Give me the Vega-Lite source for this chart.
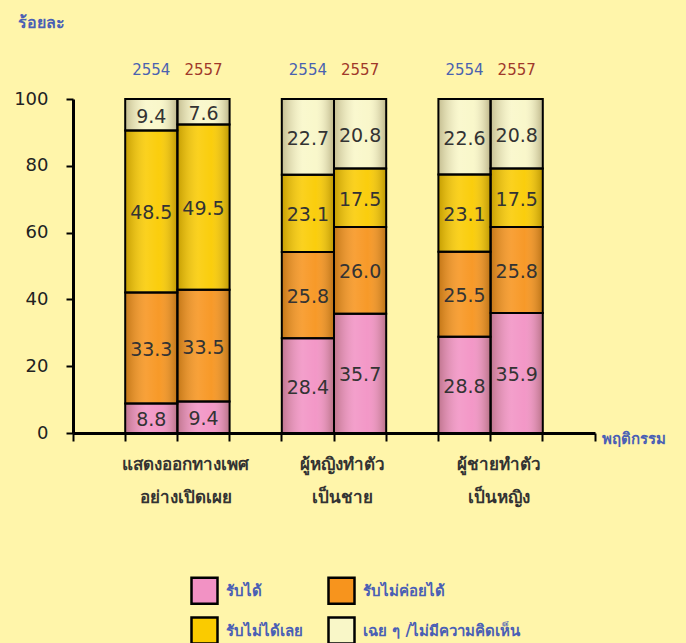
{
  "$schema": "https://vega.github.io/schema/vega-lite/v6.json",
  "autosize": "none",
  "width": 522,
  "height": 334,
  "padding": {"left": 73, "top": 99, "right": 91, "bottom": 210},
  "background": "#FFF5AA",
  "config": {
    "view": {"stroke": null},
    "font": "Tahoma, DejaVu Sans, sans-serif",
    "axisY": {
      "grid": false,
      "titleColor": "#4A5FB5",
      "titleFontSize": 16,
      "titleFontWeight": "bold",
      "titleAngle": 0,
      "titleAlign": "center",
      "titleX": -32,
      "titleY": -77,
      "titleBaseline": "middle",
      "domainColor": "#000",
      "domainWidth": 3,
      "tickColor": "#000",
      "tickWidth": 2,
      "tickSize": 7,
      "labelFontSize": 18,
      "labelColor": "#222",
      "labelPadding": 18
    }
  },
  "data": {
    "values": [
      {"bar": "A2554", "resp": "รับได้", "pct": 8.8},
      {"bar": "A2554", "resp": "รับไม่ค่อยได้", "pct": 33.3},
      {"bar": "A2554", "resp": "รับไม่ได้เลย", "pct": 48.5},
      {"bar": "A2554", "resp": "เฉย ๆ /ไม่มีความคิดเห็น", "pct": 9.4},
      {"bar": "A2557", "resp": "รับได้", "pct": 9.4},
      {"bar": "A2557", "resp": "รับไม่ค่อยได้", "pct": 33.5},
      {"bar": "A2557", "resp": "รับไม่ได้เลย", "pct": 49.5},
      {"bar": "A2557", "resp": "เฉย ๆ /ไม่มีความคิดเห็น", "pct": 7.6},
      {"bar": "B2554", "resp": "รับได้", "pct": 28.4},
      {"bar": "B2554", "resp": "รับไม่ค่อยได้", "pct": 25.8},
      {"bar": "B2554", "resp": "รับไม่ได้เลย", "pct": 23.1},
      {"bar": "B2554", "resp": "เฉย ๆ /ไม่มีความคิดเห็น", "pct": 22.7},
      {"bar": "B2557", "resp": "รับได้", "pct": 35.7},
      {"bar": "B2557", "resp": "รับไม่ค่อยได้", "pct": 26.0},
      {"bar": "B2557", "resp": "รับไม่ได้เลย", "pct": 17.5},
      {"bar": "B2557", "resp": "เฉย ๆ /ไม่มีความคิดเห็น", "pct": 20.8},
      {"bar": "C2554", "resp": "รับได้", "pct": 28.8},
      {"bar": "C2554", "resp": "รับไม่ค่อยได้", "pct": 25.5},
      {"bar": "C2554", "resp": "รับไม่ได้เลย", "pct": 23.1},
      {"bar": "C2554", "resp": "เฉย ๆ /ไม่มีความคิดเห็น", "pct": 22.6},
      {"bar": "C2557", "resp": "รับได้", "pct": 35.9},
      {"bar": "C2557", "resp": "รับไม่ค่อยได้", "pct": 25.8},
      {"bar": "C2557", "resp": "รับไม่ได้เลย", "pct": 17.5},
      {"bar": "C2557", "resp": "เฉย ๆ /ไม่มีความคิดเห็น", "pct": 20.8}
    ]
  },
  "transform": [
    {"calculate": "indexof(['รับได้','รับไม่ค่อยได้','รับไม่ได้เลย','เฉย ๆ /ไม่มีความคิดเห็น'], datum.resp)", "as": "ord"},
    {"stack": "pct", "groupby": ["bar"], "sort": [{"field": "ord", "order": "ascending"}], "as": ["y0", "y1"]},
    {"calculate": "(datum.y0 + datum.y1) / 2", "as": "ym"}
  ],
  "resolve": {"axis": {"x": "independent"}},
  "layer": [
    {
      "mark": {"type": "bar", "strokeWidth": 0},
      "encoding": {
        "x": {
          "field": "bar", "type": "nominal",
          "scale": {"domain": ["s0", "A2554", "A2557", "s1", "B2554", "B2557", "s2", "C2554", "C2557", "s3"], "paddingInner": 0, "paddingOuter": 0},
          "axis": {
            "orient": "bottom",
            "title": "พฤติกรรม",
            "titleColor": "#4A5FB5",
            "titleFontSize": 15,
            "titleFontWeight": "bold",
            "titleAnchor": "start",
            "titleAlign": "left",
            "titleX": 528,
            "titleY": 5,
            "titleBaseline": "middle",
            "bandPosition": 0,
            "domainColor": "#000",
            "domainWidth": 3,
            "tickColor": "#000",
            "tickWidth": 2,
            "tickSize": 8,
            "labelAngle": 0,
            "labelFontSize": 17,
            "labelFontWeight": "bold",
            "labelColor": "#333",
            "labelPadding": 15,
            "labelOffset": -18,
            "labelLineHeight": 33,
            "labelBaseline": "top",
            "labelExpr": "datum.value == 'A2557' ? ['แสดงออกทางเพศ', 'อย่างเปิดเผย'] : datum.value == 'B2557' ? ['ผู้หญิงทำตัว', 'เป็นชาย'] : datum.value == 'C2557' ? ['ผู้ชายทำตัว', 'เป็นหญิง'] : ''"
          }
        },
        "y": {
          "field": "y0", "type": "quantitative",
          "scale": {"domain": [0, 100], "nice": false},
          "axis": {"values": [0, 20, 40, 60, 80, 100], "title": "ร้อยละ"}
        },
        "y2": {"field": "y1"},
        "color": {
          "field": "resp", "type": "nominal",
          "scale": {
            "domain": ["รับได้", "รับไม่ค่อยได้", "รับไม่ได้เลย", "เฉย ๆ /ไม่มีความคิดเห็น"],
            "range": ["#F292C4", "#F7941D", "#FACB00", "#F9F7C8"]
          },
          "legend": {
            "orient": "none",
            "legendX": 117,
            "legendY": 477,
            "direction": "horizontal",
            "columns": 2,
            "title": null,
            "symbolType": "square",
            "symbolSize": 676,
            "symbolStrokeColor": "#000",
            "symbolStrokeWidth": 2.5,
            "symbolOpacity": 1,
            "labelColor": "#4A5FB5",
            "labelFontSize": 15,
            "labelFontWeight": "bold",
            "labelOffset": 7,
            "columnPadding": 20,
            "rowPadding": 3,
            "labelLimit": 300
          }
        }
      }
    },
    {
      "mark": {
        "type": "bar",
        "stroke": "#000",
        "strokeWidth": 2,
        "fill": {
          "gradient": "linear", "x1": 0, "y1": 0, "x2": 1, "y2": 0,
          "stops": [
            {"offset": 0, "color": "rgba(60,40,0,0.28)"},
            {"offset": 0.4, "color": "rgba(255,255,255,0.12)"},
            {"offset": 0.65, "color": "rgba(255,255,255,0.05)"},
            {"offset": 1, "color": "rgba(60,40,0,0.32)"}
          ]
        }
      },
      "encoding": {
        "x": {
          "field": "bar", "type": "nominal",
          "axis": {
            "orient": "bottom",
            "title": null,
            "values": ["s3"],
            "bandPosition": 1,
            "domain": false,
            "labels": false,
            "tickColor": "#000",
            "tickWidth": 2,
            "tickSize": 8
          }
        },
        "y": {"field": "y0", "type": "quantitative", "axis": {"values": [0, 20, 40, 60, 80, 100], "title": "ร้อยละ"}},
        "y2": {"field": "y1"}
      }
    },
    {
      "mark": {"type": "text", "fontSize": 19, "color": "#333", "dy": 2},
      "encoding": {
        "x": {
          "field": "bar", "type": "nominal",
          "axis": {
            "orient": "top",
            "title": null,
            "domain": false,
            "ticks": false,
            "labelAngle": 0,
            "labelFontSize": 15,
            "labelPadding": 22,
            "labelExpr": "indexof(datum.value, 's') == 0 ? '' : substring(datum.value, 1)",
            "labelColor": {"condition": {"test": "indexof(datum.value, '2557') >= 0", "value": "#A0392A"}, "value": "#4A62B0"}
          }
        },
        "y": {"field": "ym", "type": "quantitative", "axis": {"values": [0, 20, 40, 60, 80, 100], "title": "ร้อยละ"}},
        "text": {"field": "pct", "type": "quantitative", "format": ".1f"}
      }
    }
  ]
}
